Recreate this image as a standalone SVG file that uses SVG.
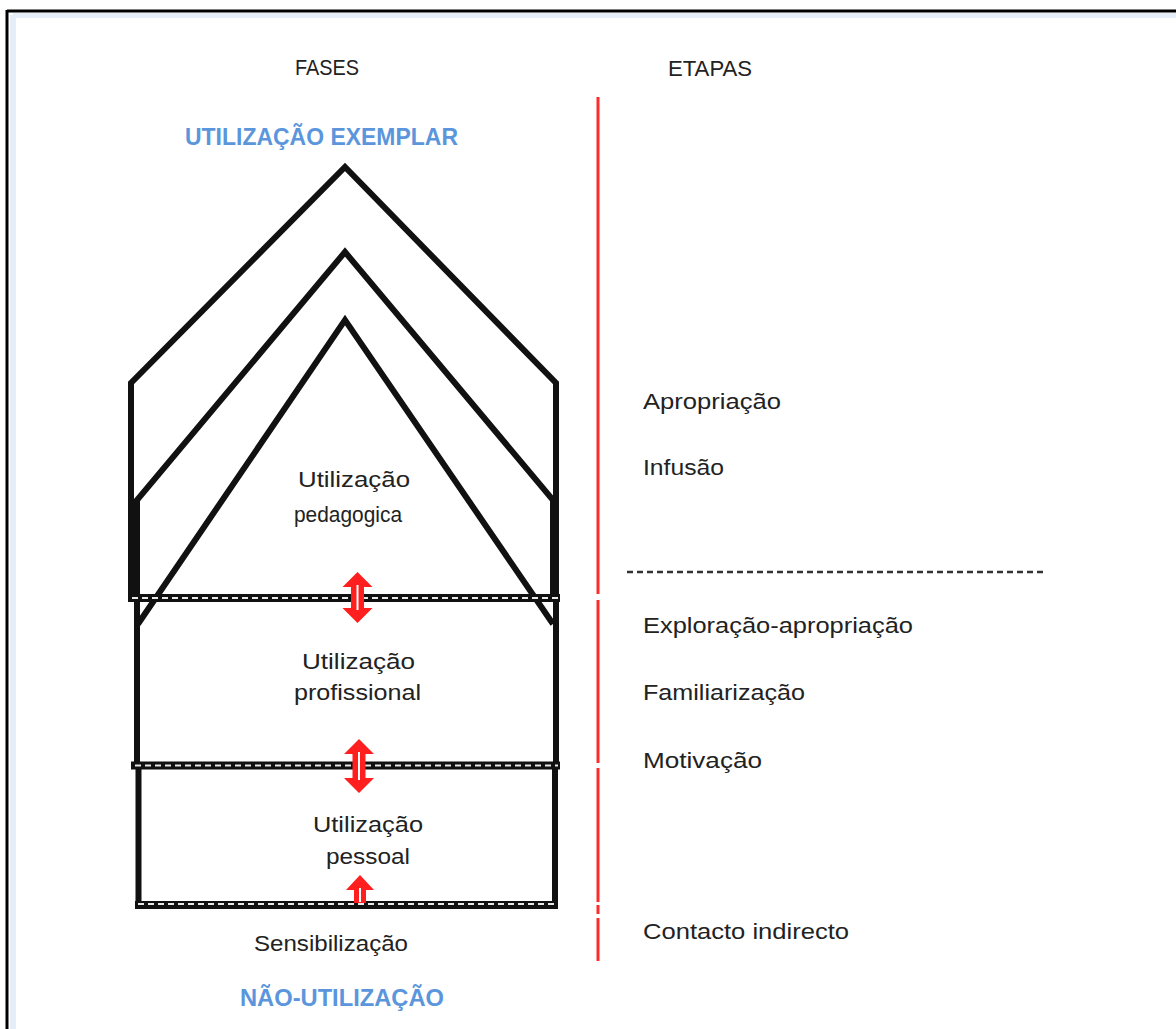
<svg xmlns="http://www.w3.org/2000/svg" width="1176" height="1029" viewBox="0 0 1176 1029">
<style>
.t{font-family:"Liberation Sans",Arial,sans-serif;font-size:22px;fill:#222}
.b{font-family:"Liberation Sans",Arial,sans-serif;font-size:23px;font-weight:bold;fill:#5b96dc}
.ln{fill:none;stroke:#111;stroke-width:6;stroke-linejoin:miter}
.band{stroke:#111;stroke-width:8}
.dash{stroke:#e8e8e8;stroke-width:2;stroke-dasharray:6 4}
.red{fill:#ff1f1f}
.slit{stroke:#fff;stroke-width:2}
.rl{stroke:#ff2a2a;stroke-width:3}
</style>
<rect width="1176" height="1029" fill="#fff"/>
<g id="frame">
<line x1="13" y1="15.5" x2="1176" y2="15.5" stroke="#e4edf8" stroke-width="5"/>
<line x1="13" y1="15" x2="13" y2="1029" stroke="#e4edf8" stroke-width="6"/>
<line x1="7" y1="11" x2="1176" y2="11" stroke="#000" stroke-width="3"/>
<line x1="7" y1="10" x2="7" y2="1029" stroke="#000" stroke-width="3"/>
</g>
<g id="headers">
<text class="t" x="295" y="75" textLength="64" lengthAdjust="spacingAndGlyphs">FASES</text>
<text class="t" x="668" y="76" textLength="84" lengthAdjust="spacingAndGlyphs">ETAPAS</text>
<text class="b" x="185" y="145" textLength="273" lengthAdjust="spacingAndGlyphs">UTILIZAÇÃO EXEMPLAR</text>
<text class="b" x="240" y="1006" textLength="204" lengthAdjust="spacingAndGlyphs">NÃO-UTILIZAÇÃO</text>
</g>
<g id="node-exemplar">
<polyline class="ln" points="131,600 131,383 345,167 556,383 556,600"/>
</g>
<g id="node-pedagogica">
<polyline class="ln" points="137,600 137,500 345,252 553,500 553,600"/>
<polyline class="ln" points="138,624 345,320 553,624"/>
<text class="t" x="298" y="487" textLength="112" lengthAdjust="spacingAndGlyphs">Utilização</text>
<text class="t" x="294" y="522" textLength="108" lengthAdjust="spacingAndGlyphs">pedagogica</text>
</g>
<g id="node-profissional">
<line class="ln" x1="137" y1="600" x2="137" y2="765" stroke-width="10"/>
<line class="ln" x1="556" y1="600" x2="556" y2="765"/>
<text class="t" x="302" y="669" textLength="113" lengthAdjust="spacingAndGlyphs">Utilização</text>
<text class="t" x="294" y="700" textLength="127" lengthAdjust="spacingAndGlyphs">profissional</text>
</g>
<g id="node-pessoal">
<line class="ln" x1="138.5" y1="765" x2="138.5" y2="905"/>
<line class="ln" x1="555" y1="765" x2="555" y2="905"/>
<text class="t" x="313" y="832" textLength="110" lengthAdjust="spacingAndGlyphs">Utilização</text>
<text class="t" x="326" y="864" textLength="84" lengthAdjust="spacingAndGlyphs">pessoal</text>
</g>
<g id="bands">
<line class="band" x1="128" y1="598" x2="560" y2="598"/>
<line class="dash" x1="132" y1="598" x2="558" y2="598"/>
<line class="band" x1="131" y1="765.5" x2="560" y2="765.5"/>
<line class="dash" x1="135" y1="765.5" x2="558" y2="765.5"/>
<line class="band" x1="135" y1="905" x2="558" y2="905"/>
<line class="dash" x1="138" y1="904" x2="556" y2="904"/>
</g>
<g id="node-sensibilizacao">
<text class="t" x="254" y="951" textLength="154" lengthAdjust="spacingAndGlyphs">Sensibilização</text>
</g>
<g id="connectors">
<path class="red" d="M357.5,572 L372.5,587 L364,587 L364,608 L372.5,608 L357.5,623 L342.5,608 L351,608 L351,587 L342.5,587 Z"/>
<line class="slit" x1="357.5" y1="585" x2="357.5" y2="610"/>
<path class="red" d="M359,739 L374,754 L365.5,754 L365.5,778 L374,778 L359,793 L344,778 L352.5,778 L352.5,754 L344,754 Z"/>
<line class="slit" x1="359" y1="752" x2="359" y2="780"/>
<path class="red" d="M360,875 L374,890 L366,890 L366,903 L354,903 L354,890 L346,890 Z"/>
<line class="slit" x1="360" y1="888" x2="360" y2="902"/>
<g id="divider">
<line class="rl" x1="598" y1="97" x2="598" y2="594"/>
<line class="rl" x1="598" y1="600" x2="598" y2="763"/>
<line class="rl" x1="598" y1="768" x2="598" y2="902"/>
<line class="rl" x1="598" y1="905" x2="598" y2="914"/>
<line class="rl" x1="598" y1="918" x2="598" y2="961"/>
</g>
<line x1="627" y1="572" x2="1045" y2="572" stroke="#333" stroke-width="2.5" stroke-dasharray="6 4"/>
</g>
<g id="etapas">
<text class="t" x="643" y="409" textLength="138" lengthAdjust="spacingAndGlyphs">Apropriação</text>
<text class="t" x="643" y="475" textLength="81" lengthAdjust="spacingAndGlyphs">Infusão</text>
<text class="t" x="643" y="633" textLength="270" lengthAdjust="spacingAndGlyphs">Exploração-apropriação</text>
<text class="t" x="643" y="700" textLength="162" lengthAdjust="spacingAndGlyphs">Familiarização</text>
<text class="t" x="643" y="768" textLength="119" lengthAdjust="spacingAndGlyphs">Motivação</text>
<text class="t" x="643" y="939" textLength="206" lengthAdjust="spacingAndGlyphs">Contacto indirecto</text>
</g>
</svg>
